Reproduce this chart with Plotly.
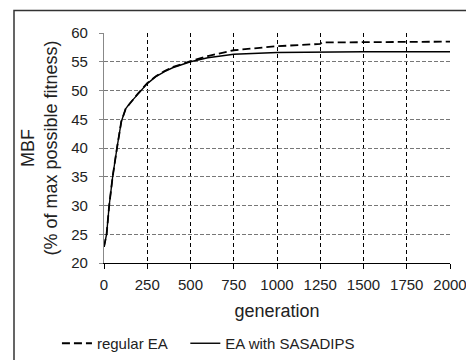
import plotly.graph_objects as go

gen_regular = [0, 15, 30, 50, 75, 100, 125, 150, 200, 250, 300, 350, 400, 500, 600, 750, 1000, 1250, 1260, 1500, 1750, 2000]
mbf_regular = [22.8, 25.0, 30.0, 35.0, 40.0, 44.6, 46.8, 47.8, 49.6, 51.3, 52.5, 53.4, 54.1, 55.1, 56.0, 57.0, 57.7, 58.1, 58.35, 58.4, 58.45, 58.5]

gen_sasadips = [0, 15, 30, 50, 75, 100, 125, 150, 200, 250, 300, 350, 400, 500, 600, 750, 1000, 1250, 1500, 1750, 2000]
mbf_sasadips = [22.8, 25.0, 30.0, 35.0, 40.0, 44.6, 46.8, 47.8, 49.5, 51.2, 52.4, 53.3, 54.0, 55.0, 55.7, 56.3, 56.6, 56.7, 56.75, 56.75, 56.75]

x_ticks = [0, 250, 500, 750, 1000, 1250, 1500, 1750, 2000]
y_ticks = [20, 25, 30, 35, 40, 45, 50, 55, 60]

font = dict(family="Liberation Sans, Arial, sans-serif", size=15, color="#222")

fig = go.Figure()
fig.add_trace(go.Scatter(x=gen_regular, y=mbf_regular, mode="lines", name="regular EA\u00a0\u00a0\u00a0",
                         line=dict(color="black", width=1.8, dash="8px,4px")))
fig.add_trace(go.Scatter(x=gen_sasadips, y=mbf_sasadips, mode="lines", name="EA with SASADIPS",
                         line=dict(color="black", width=1.4)))

fig.update_layout(
    width=466, height=360,
    margin=dict(l=104, r=16, t=33, b=97, autoexpand=False),
    paper_bgcolor="white", plot_bgcolor="white",
    font=font,
    showlegend=True,
    legend=dict(orientation="h", x=-0.136, xanchor="left", y=-0.35, yanchor="middle",
                font=font, bgcolor="rgba(0,0,0,0)", tracegroupgap=0, itemwidth=30),
    xaxis=dict(range=[0, 2000], tickvals=x_ticks, ticks="outside", ticklen=5, tickcolor="black",
               ticklabelstandoff=3, automargin=False, ticklabeloverflow="allow",
               showline=True, linecolor="black", linewidth=1.2,
               showgrid=True, gridcolor="black", griddash="4px,3px", gridwidth=1,
               title=dict(text="generation", standoff=12), zeroline=False),
    yaxis=dict(range=[20, 60], tickvals=y_ticks, ticks="outside", ticklen=4, tickcolor="#888",
               ticklabelstandoff=8, automargin=False,
               showline=True, linecolor="#888", linewidth=1.2,
               showgrid=True, gridcolor="#777", griddash="4px,2px", gridwidth=1,
               title=dict(text="MBF<br>(% of max possible fitness)", standoff=8), zeroline=False),
    shapes=[dict(type="rect", xref="paper", yref="paper",
                 x0=(14 - 104) / 346, x1=(470 - 104) / 346,
                 y0=(263 - 370) / 230.5, y1=(263 - 10) / 230.5,
                 line=dict(color="#333", width=1.5), layer="below")],
)

fig.write_html("out.html")
